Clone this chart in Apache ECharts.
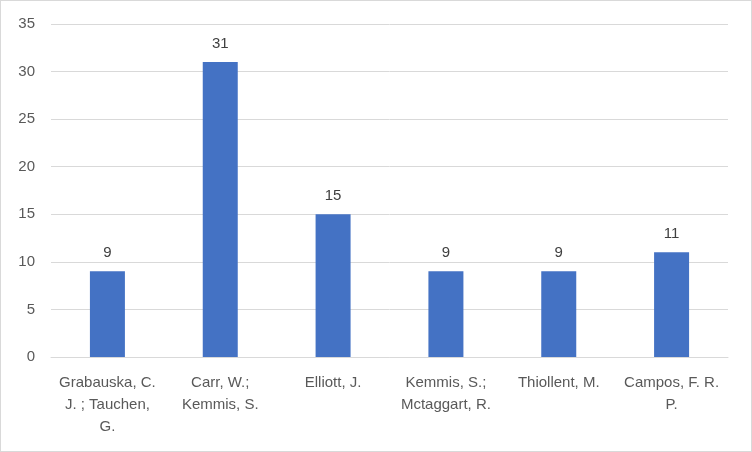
<!DOCTYPE html>
<html>
<head>
<meta charset="utf-8">
<script src="https://cdn.jsdelivr.net/npm/echarts@6/dist/echarts.min.js"></script>
<style>
  html, body { margin: 0; padding: 0; background: #fff; }
  #chart { width: 750px; height: 450px; border: 1px solid #d9d9d9; }
</style>
</head>
<body>
<div id="chart"></div>
<script>
const authors = [
  'Grabauska, C.\nJ. ; Tauchen,\nG.',
  'Carr, W.;\nKemmis, S.',
  'Elliott, J.',
  'Kemmis, S.;\nMctaggart, R.',
  'Thiollent, M.',
  'Campos, F. R.\nP.'
]
const counts = [9, 31, 15, 9, 9, 11]
const yTicks = { min: 0, max: 35, interval: 5 }

const chart = echarts.init(document.getElementById('chart'))
chart.setOption({
  animation: false,
  textStyle: { fontFamily: 'Liberation Sans, Arial, sans-serif' },
  grid: { left: 50, right: 23, top: 23, bottom: 94 },
  xAxis: {
    type: 'category',
    data: authors,
    axisTick: { show: false },
    axisLine: { lineStyle: { color: '#d9d9d9', width: 1 } },
    axisLabel: { color: '#595959', fontSize: 15, lineHeight: 22, margin: 15, interval: 0 }
  },
  yAxis: {
    type: 'value',
    min: yTicks.min, max: yTicks.max, interval: yTicks.interval,
    axisLine: { show: false },
    axisTick: { show: false },
    splitLine: { lineStyle: { color: '#d9d9d9', width: 1 } },
    axisLabel: { color: '#595959', fontSize: 15, margin: 16 }
  },
  series: [{
    type: 'bar',
    data: counts,
    barWidth: 35,
    itemStyle: { color: '#4472c4' },
    label: { show: true, position: 'top', color: '#404040', fontSize: 15, distance: 11 }
  }]
})
</script>
</body>
</html>
